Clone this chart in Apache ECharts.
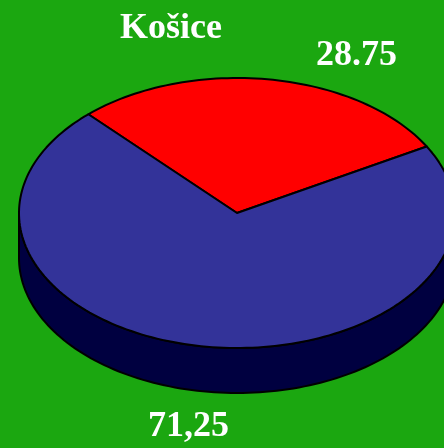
<!DOCTYPE html>
<html>
<head>
<meta charset="utf-8">
<script src="https://cdn.jsdelivr.net/npm/echarts@6/dist/echarts.min.js"></script>
<style>
  html, body { margin: 0; padding: 0; background: #1ba710; }
  #chart { width: 444px; height: 448px; }
</style>
</head>
<body>
<div id="chart"></div>
<script>
// ---- data ----
const chartTitle = 'Košice';
const sliceNames = ['Part A', 'Part B'];
const sliceValues = [28.75, 71.25];
const sliceLabels = ['28.75', '71,25'];
const sliceColors = ['#ff0000', '#333399'];

// ---- layout / style ----
const CX = 237, CY = 213, RX = 218, RY = 135, DEPTH = 45;
const START_ANGLE = 133; // degrees, math convention, slices run clockwise
const SIDE_COLOR = '#000040';
const total = sliceValues.reduce((a, b) => a + b, 0);

function pt(theta, dy) {
  const t = theta * Math.PI / 180;
  return [CX + RX * Math.cos(t), CY - RY * Math.sin(t) + (dy || 0)];
}
function arc(from, to, dy) {
  const pts = [];
  const n = Math.max(2, Math.ceil(Math.abs(from - to) / 1.5));
  for (let i = 0; i <= n; i++) pts.push(pt(from + (to - from) * i / n, dy));
  return pts;
}

function renderItem(params, api) {
  const idx = params.dataIndex;
  let before = 0;
  for (let i = 0; i < idx; i++) before += sliceValues[i];
  const v = api.value(1);
  const a0 = START_ANGLE - before / total * 360;
  const a1 = a0 - v / total * 360;
  const children = [];
  // visible front side: angles in [-180, 0] (+k*360)
  for (let k = -1; k <= 1; k++) {
    const lo = Math.max(a1, -180 + 360 * k);
    const hi = Math.min(a0, 360 * k);
    if (lo < hi) {
      const top = arc(hi, lo, 0);
      const bot = arc(lo, hi, DEPTH);
      children.push({
        type: 'polygon',
        z2: 1,
        shape: { points: top.concat(bot) },
        style: { fill: SIDE_COLOR, stroke: '#000', lineWidth: 2, lineJoin: 'round' }
      });
    }
  }
  const face = [[CX, CY]].concat(arc(a0, a1, 0));
  children.push({
    type: 'polygon',
    z2: 10,
    shape: { points: face },
    style: { fill: api.visual('color'), stroke: '#000', lineWidth: 2, lineJoin: 'round' }
  });
  return { type: 'group', children: children };
}

const chart = echarts.init(document.getElementById('chart'), null, { renderer: 'canvas' });
chart.setOption({
  backgroundColor: '#1ba710',
  animation: false,
  title: {
    text: chartTitle,
    left: 166, top: 6,
    textAlign: 'center',
    textStyle: { color: '#fff', fontFamily: 'Liberation Serif', fontWeight: 'bold', fontSize: 36 }
  },
  series: [{
    type: 'custom',
    coordinateSystem: 'none',
    renderItem: renderItem,
    data: sliceValues.map((v, i) => ({ name: sliceNames[i], value: [i, v], itemStyle: { color: sliceColors[i] } }))
  }],
  graphic: [
    { type: 'text', left: 316, top: 38, style: { text: sliceLabels[0], fill: '#fff', font: 'bold 36px "Liberation Serif"' } },
    { type: 'text', left: 148, top: 409, style: { text: sliceLabels[1], fill: '#fff', font: 'bold 36px "Liberation Serif"' } }
  ]
});
</script>
</body>
</html>
